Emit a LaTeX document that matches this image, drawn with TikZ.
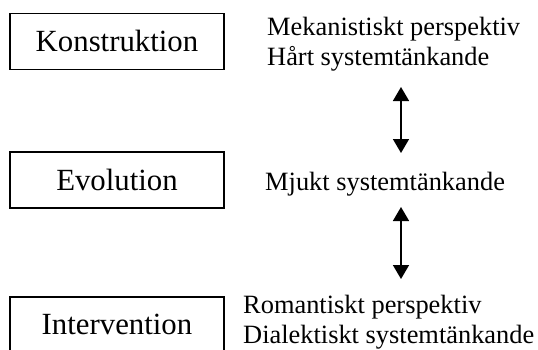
\documentclass[tikz,border=0pt]{standalone}
\usepackage{fontspec}
\setmainfont{Liberation Serif}
\usetikzlibrary{arrows.meta}
\tikzset{
  stagebox/.style={draw, line width=1.6pt, minimum width=214pt, minimum height=56pt, inner sep=0pt, font=\fontsize{30.8}{34}\selectfont},
  sidetext/.style={anchor=base west, inner sep=0pt, font=\fontsize{26.4}{30}\selectfont},
  linkarrow/.style={line width=1.6pt, {Triangle[length=14pt,width=16pt]}-{Triangle[length=14pt,width=16pt]}}
}
\begin{document}
\begin{tikzpicture}[x=1pt,y=-1pt]
\useasboundingbox (0,0) rectangle (538,349);
\clip (0,0) rectangle (538,349);
\node[stagebox] (k) at (117,41.3) {Konstruktion};
\node[stagebox] (e) at (117,180.2) {Evolution};
\node[stagebox, minimum height=55pt] (i) at (117,324.5) {Intervention};
\node[sidetext] (k1) at (267,35) {Mekanistiskt perspektiv};
\node[sidetext] (k2) at (267,65) {Hårt systemtänkande};
\node[sidetext] (e1) at (265,190) {Mjukt systemtänkande};
\node[sidetext] (i1) at (243,313) {Romantiskt perspektiv};
\node[sidetext] (i2) at (243,343) {Dialektiskt systemtänkande};
\coordinate (a1s) at (401,87);
\coordinate (a1e) at (401,153);
\coordinate (a2s) at (401,207);
\coordinate (a2e) at (401,279);
\draw[linkarrow] (a1s) -- (a1e);
\draw[linkarrow] (a2s) -- (a2e);
\end{tikzpicture}
\end{document}
